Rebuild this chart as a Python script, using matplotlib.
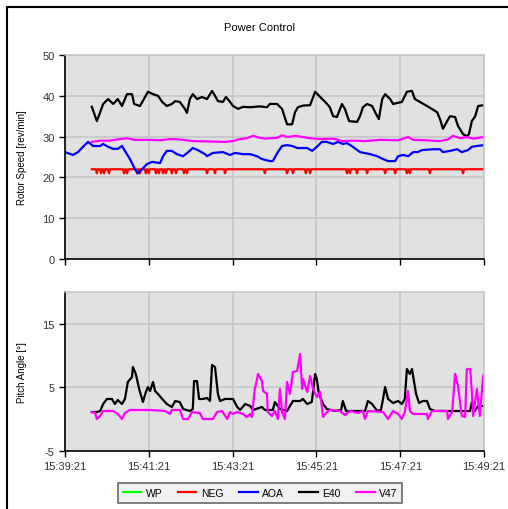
import matplotlib
matplotlib.use('Agg')
import matplotlib.pyplot as plt
from matplotlib.lines import Line2D

plt.rcParams['font.family'] = ['Liberation Sans', 'DejaVu Sans']
plt.rcParams['axes.unicode_minus'] = False

# time in minutes after 15:39:21
tick_minutes = [0, 2, 4, 6, 8, 10]
tick_labels = ['15:39:21', '15:41:21', '15:43:21', '15:45:21', '15:47:21', '15:49:21']

# --- rotor speed [rev/min] ---
e40_rs_t = [0.64, 0.76, 0.84, 0.91, 1.03, 1.15, 1.26, 1.36, 1.48, 1.60, 1.65, 1.79, 1.91, 1.98,
            2.10, 2.22, 2.32, 2.43, 2.55, 2.63, 2.74, 2.86, 2.91, 2.98, 3.05, 3.15, 3.27, 3.39,
            3.51, 3.58, 3.65, 3.77, 3.84, 3.94, 4.01, 4.13, 4.25, 4.42, 4.65, 4.82, 4.89, 5.06,
            5.18, 5.30, 5.42, 5.49, 5.56, 5.68, 5.85, 5.97, 6.09, 6.21, 6.32, 6.40, 6.49, 6.61,
            6.68, 6.78, 6.97, 7.04, 7.11, 7.21, 7.33, 7.40, 7.49, 7.57, 7.64, 7.76, 7.83, 8.04,
            8.16, 8.28, 8.35, 8.47, 8.64, 8.88, 8.95, 9.02, 9.12, 9.19, 9.31, 9.38, 9.50, 9.59,
            9.64, 9.71, 9.79, 9.86, 10.0]
e40_rs = [37.3, 33.8, 36.0, 38.0, 39.2, 38.0, 39.2, 37.5, 40.4, 40.4, 38.0, 37.5, 39.7, 41.0,
          40.4, 40.0, 38.5, 37.5, 38.0, 38.7, 38.5, 36.8, 35.8, 39.2, 40.4, 39.2, 39.7, 39.2,
          41.2, 40.0, 38.7, 38.5, 39.7, 38.5, 37.5, 36.8, 37.3, 37.2, 37.4, 37.2, 38.0, 38.0,
          36.8, 33.0, 33.0, 36.0, 37.2, 37.6, 37.7, 41.0, 39.7, 38.5, 37.2, 35.0, 34.8, 38.0,
          36.8, 33.8, 33.6, 35.0, 37.2, 38.0, 37.5, 36.0, 34.3, 39.2, 40.4, 39.2, 38.0, 38.5,
          41.0, 41.2, 39.2, 38.5, 37.5, 36.0, 34.3, 31.9, 33.8, 35.0, 34.8, 32.6, 30.6, 30.1,
          30.6, 33.8, 35.0, 37.5, 37.7]

aoa_rs_t = [0.0, 0.19, 0.31, 0.43, 0.55, 0.67, 0.84, 0.91, 1.03, 1.15, 1.26, 1.36, 1.43, 1.55,
            1.67, 1.74, 1.84, 1.96, 2.08, 2.27, 2.34, 2.43, 2.55, 2.67, 2.82, 2.94, 3.05, 3.17,
            3.34, 3.39, 3.53, 3.77, 3.94, 4.06, 4.25, 4.42, 4.58, 4.70, 4.89, 4.96, 5.08, 5.18,
            5.30, 5.42, 5.54, 5.78, 5.90, 6.01, 6.13, 6.25, 6.40, 6.52, 6.63, 6.73, 6.87, 7.04,
            7.28, 7.45, 7.59, 7.71, 7.88, 7.95, 8.07, 8.19, 8.31, 8.42, 8.52, 8.78, 8.95, 9.02,
            9.19, 9.36, 9.47, 9.62, 9.71, 9.83, 10.0]
aoa_rs = [26.2, 25.5, 26.2, 27.5, 28.7, 27.7, 27.7, 28.2, 27.5, 27.0, 27.0, 27.7, 26.5, 24.5,
          22.0, 21.0, 22.0, 23.3, 23.8, 23.5, 25.2, 26.5, 26.5, 25.7, 25.2, 26.2, 27.2, 26.7,
          25.7, 25.2, 26.0, 26.2, 25.5, 26.0, 25.7, 25.7, 25.2, 24.5, 24.0, 24.0, 26.2, 27.7,
          27.9, 27.7, 27.2, 27.2, 26.5, 27.5, 28.7, 28.7, 28.2, 28.7, 28.2, 28.4, 27.5, 26.2,
          25.7, 25.2, 24.5, 24.0, 24.0, 25.2, 25.5, 25.2, 26.2, 26.2, 26.7, 26.9, 26.9, 26.2,
          26.5, 26.9, 26.2, 26.7, 27.5, 27.7, 27.9]

v47_rs_t = [0.64, 0.84, 1.07, 1.31, 1.48, 1.67, 2.03, 2.27, 2.51, 2.74, 3.05, 3.46, 3.82, 4.01,
            4.18, 4.34, 4.49, 4.61, 4.77, 5.06, 5.18, 5.32, 5.49, 5.61, 5.85, 6.09, 6.40, 6.63,
            6.92, 7.16, 7.52, 7.95, 8.19, 8.31, 8.59, 8.95, 9.14, 9.26, 9.43, 9.59, 9.74, 10.0]
v47_rs = [28.7, 29.0, 29.0, 29.4, 29.6, 29.2, 29.2, 29.1, 29.4, 29.3, 28.9, 28.8, 28.7, 28.9,
          29.4, 29.6, 30.2, 29.8, 29.5, 29.7, 30.3, 29.9, 30.2, 30.0, 29.6, 29.4, 29.5, 28.9,
          29.0, 28.9, 29.2, 29.1, 29.9, 29.2, 29.1, 28.9, 29.3, 30.2, 29.6, 29.9, 29.5, 29.9]

neg_start, neg_end = 0.64, 10.0
neg_level, neg_low = 22.0, 21.0
neg_dips = [0.76, 0.86, 0.93, 1.05, 1.41, 1.48, 1.72, 1.79, 1.93, 2.00, 2.17, 2.24, 2.34, 2.41,
            2.55, 2.65, 2.84, 2.91, 3.39, 3.58, 3.82, 4.77, 5.30, 5.44, 5.75, 5.85, 6.73, 6.80,
            6.97, 7.21, 7.64, 7.88, 8.16, 8.23, 8.71, 9.50]

# --- pitch angle [deg] ---
e40_pa_t = [0.64, 0.76, 0.84, 0.91, 1.00, 1.12, 1.19, 1.26, 1.36, 1.43, 1.50, 1.60, 1.62, 1.69,
            1.77, 1.86, 1.93, 1.98, 2.03, 2.10, 2.15, 2.22, 2.32, 2.43, 2.55, 2.63, 2.74, 2.82,
            2.98, 3.05, 3.08, 3.15, 3.20, 3.29, 3.39, 3.46, 3.51, 3.58, 3.65, 3.70, 3.82, 4.01,
            4.11, 4.18, 4.30, 4.42, 4.49, 4.70, 4.77, 4.96, 5.01, 5.13, 5.30, 5.44, 5.61, 5.68,
            5.78, 5.89, 5.97, 6.01, 6.06, 6.16, 6.25, 6.44, 6.59, 6.63, 6.71, 7.16, 7.23, 7.33,
            7.45, 7.54, 7.59, 7.64, 7.71, 7.83, 7.95, 8.04, 8.11, 8.16, 8.23, 8.28, 8.38, 8.45,
            8.54, 8.64, 8.71, 8.83, 9.31, 9.67, 9.71, 9.78, 9.86, 10.0]
e40_pa = [1.13, 1.13, 1.29, 2.39, 3.18, 3.18, 2.39, 3.02, 2.39, 3.18, 5.85, 6.64, 8.21, 7.11,
          4.75, 2.70, 4.28, 5.06, 4.43, 5.85, 4.43, 3.96, 3.18, 2.39, 1.92, 2.86, 2.70, 1.60,
          1.29, 1.60, 6.00, 6.00, 3.18, 3.18, 3.33, 2.86, 8.52, 8.21, 3.96, 2.86, 3.18, 3.18,
          1.92, 1.45, 2.39, 2.08, 1.45, 1.92, 1.45, 1.45, 2.70, 1.60, 1.29, 2.86, 2.86, 3.18,
          2.39, 2.70, 7.11, 6.32, 3.96, 2.39, 1.60, 1.29, 1.45, 2.86, 1.29, 1.29, 2.86, 2.39,
          1.29, 1.45, 3.18, 5.06, 3.18, 2.55, 2.86, 2.39, 3.18, 7.89, 7.11, 7.89, 3.96, 2.55,
          2.86, 2.86, 1.60, 1.29, 1.29, 1.29, 2.70, 1.29, 2.08, 2.08]

v47_pa_t = [0.64, 0.72, 0.76, 0.84, 0.91, 1.15, 1.26, 1.36, 1.43, 1.55, 2.03, 2.39, 2.51, 2.55,
            2.74, 2.82, 2.94, 3.03, 3.22, 3.29, 3.53, 3.63, 3.75, 3.87, 3.94, 4.01, 4.11, 4.25,
            4.34, 4.42, 4.46, 4.53, 4.61, 4.70, 4.73, 4.82, 4.84, 4.94, 5.01, 5.08, 5.13, 5.18,
            5.25, 5.30, 5.37, 5.44, 5.54, 5.61, 5.66, 5.68, 5.78, 5.85, 5.92, 6.01, 6.09, 6.16,
            6.25, 6.32, 6.56, 6.68, 6.80, 6.99, 7.11, 7.16, 7.23, 7.59, 7.71, 7.83, 7.95, 8.04,
            8.11, 8.19, 8.23, 8.31, 8.64, 8.66, 8.76, 9.12, 9.14, 9.24, 9.31, 9.38, 9.47, 9.55,
            9.59, 9.67, 9.71, 9.74, 9.83, 9.90, 9.98, 10.0]
v47_pa = [1.13, 0.97, 0.03, 0.50, 1.29, 1.29, 0.82, 0.03, 0.97, 1.45, 1.45, 1.29, 0.82, 1.45,
          1.45, 0.03, 0.03, 1.13, 0.97, 0.03, 0.03, 1.13, 1.29, 0.03, 1.13, 0.82, 1.13, 0.82,
          0.35, 0.82, 0.35, 4.75, 7.11, 6.00, 4.43, 3.96, 1.13, 0.50, 1.29, 0.03, 4.75, 1.13,
          0.03, 5.85, 3.96, 7.42, 7.58, 10.25, 4.75, 6.32, 4.28, 6.79, 4.75, 3.49, 4.28, 0.35,
          1.13, 1.45, 1.29, 0.66, 1.29, 0.97, 1.29, 0.03, 1.29, 1.13, 0.03, 1.29, 0.82, 0.03,
          1.13, 4.43, 1.29, 0.82, 0.82, 0.03, 1.29, 1.29, 0.03, 1.13, 7.11, 5.22, 0.50, 0.35,
          7.89, 7.89, 4.28, 0.50, 4.75, 0.50, 6.79, 7.11]

series_names = ['WP', 'NEG', 'AOA', 'E40', 'V47']
series_colors = {'WP': '#00ff00', 'NEG': '#ff0000', 'AOA': '#0000ff', 'E40': '#000000', 'V47': '#ff00ff'}

# NEG line: flat level with short dips at the listed times
neg_t = [neg_start]
neg_v = [neg_level]
for d in neg_dips:
    neg_t += [d - 0.025, d, d + 0.025]
    neg_v += [neg_level, neg_low, neg_level]
neg_t.append(neg_end)
neg_v.append(neg_level)

fig = plt.figure(figsize=(5.08, 5.10), dpi=100)
ax1 = fig.add_axes([65/508, 1 - 260/510, 419/508, 204/510])
ax2 = fig.add_axes([65/508, 1 - 452/510, 419/508, 159/510])

lw = 1.6
ax1.plot(neg_t, neg_v, color=series_colors['NEG'], lw=lw)
ax1.plot(aoa_rs_t, aoa_rs, color=series_colors['AOA'], lw=lw)
ax1.plot(e40_rs_t, e40_rs, color=series_colors['E40'], lw=lw)
ax1.plot(v47_rs_t, v47_rs, color=series_colors['V47'], lw=lw)

ax2.plot(e40_pa_t, e40_pa, color=series_colors['E40'], lw=lw)
ax2.plot(v47_pa_t, v47_pa, color=series_colors['V47'], lw=lw)

for ax in (ax1, ax2):
    ax.set_facecolor('#e1e1e1')
    ax.set_xlim(0, 10)
    ax.set_xticks(tick_minutes)
    ax.grid(True, color='#c4c4c4', lw=1.1)
    ax.set_axisbelow(True)
    for s in ('top', 'right'):
        ax.spines[s].set_color('#c4c4c4')
        ax.spines[s].set_linewidth(1.1)
    for s in ('left', 'bottom'):
        ax.spines[s].set_color('black')
        ax.spines[s].set_linewidth(1.2)
    ax.tick_params(direction='out', length=4, width=1, colors='black',
                   labelsize=8, labelcolor='#333333')

ax1.set_ylim(0, 50)
ax1.set_yticks([0, 10, 20, 30, 40, 50])
ax1.set_xticklabels([])
ax1.set_ylabel('Rotor Speed [rev/min]', fontsize=7)
ax1.yaxis.set_label_coords(-0.091, 0.5)

ax2.set_ylim(-5, 20)
ax2.set_yticks([-5, 5, 15])
ax2.set_xticklabels(tick_labels)
ax2.set_ylabel('Pitch Angle [°]', fontsize=7)
ax2.yaxis.set_label_coords(-0.091, 0.5)

fig.text(259/508, 1 - 28/510, 'Power Control', ha='center', va='center', fontsize=8)

handles = [Line2D([], [], color=series_colors[n], lw=lw) for n in series_names]
leg = fig.legend(handles, series_names, loc='center', bbox_to_anchor=(260/508, 1 - 494/510),
                 ncol=5, fontsize=7.5, frameon=True, fancybox=False, handlelength=1.8,
                 columnspacing=1.5, handletextpad=0.4, borderpad=0.45)
leg.get_frame().set_edgecolor('#444444')
leg.get_frame().set_facecolor('#eeeeee')
leg.get_frame().set_linewidth(1.2)

# outer border (left and top edges)
fig.add_artist(Line2D([7/508, 7/508, 1], [0, 1 - 8/510, 1 - 8/510], color='black', lw=1.5,
                      transform=fig.transFigure))

fig.savefig('out.png', dpi=100)
